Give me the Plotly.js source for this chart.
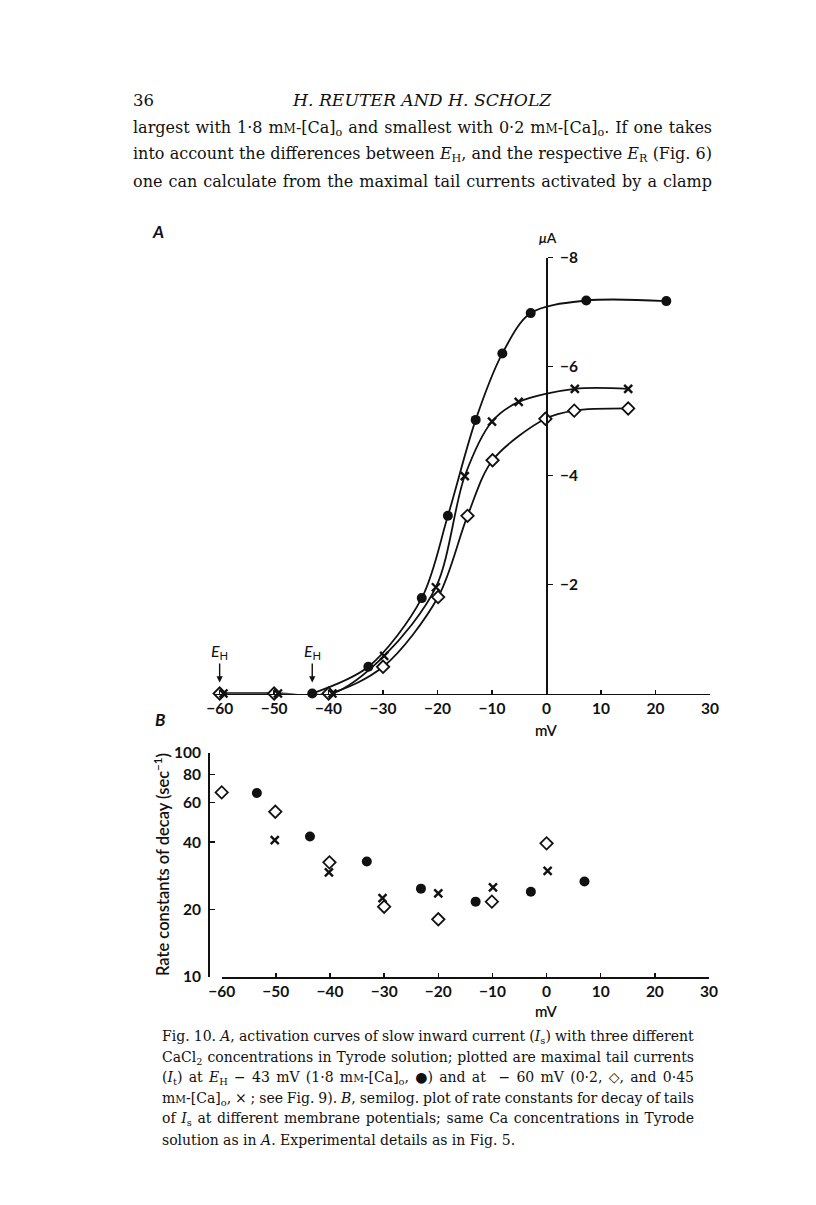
<!DOCTYPE html>
<html>
<head>
<meta charset="utf-8">
<script src="https://cdn.plot.ly/plotly-3.0.1.min.js"></script>
<style>html,body{margin:0;padding:0;background:#fff;}#chart{width:816px;height:1205px;}</style>
</head>
<body>
<div id="chart"></div>
<script>
// ---------- Panel A: maximal tail currents (µA) vs membrane potential (mV) ----------
const aFilledX  = [-43, -32.7, -22.9, -18.1, -13.0, -8.1, -2.9, 7.3, 22.0];
const aFilledY  = [0, -0.49, -1.75, -3.26, -5.02, -6.24, -6.98, -7.21, -7.20];
const aCrossX   = [-59.3, -49.3, -39.3, -29.8, -20.3, -15.0, -10.0, -5.1, 5.2, 15.0];
const aCrossY   = [0, 0, 0, -0.69, -1.95, -3.99, -4.99, -5.35, -5.59, -5.59];
const aDiamondX = [-60, -50, -40, -30.0, -19.9, -14.5, -9.9, -0.2, 5.1, 15.0];
const aDiamondY = [0, 0, 0, -0.49, -1.77, -3.26, -4.28, -5.04, -5.19, -5.23];

// ---------- Panel B: rate constants of decay (sec^-1), semilog ----------
const bFilledX  = [-53.5, -43.7, -33.2, -23.2, -13.1, -2.9, 7.0];
const bFilledY  = [66.3, 42.4, 32.8, 24.8, 21.7, 24.0, 26.7];
const bCrossX   = [-60.3, -50.2, -40.2, -30.3, -20.0, -9.9, 0.2];
const bCrossY   = [58.6, 40.8, 29.3, 22.5, 23.6, 25.1, 29.8];
const bDiamondX = [-60, -50.1, -40.1, -30.0, -20.0, -10.1, 0];
const bDiamondY = [66.7, 54.7, 32.5, 20.6, 18.1, 21.7, 39.5];

// ---------- Tick labels ----------
const mvTickVals = [-60, -50, -40, -30, -20, -10, 0, 10, 20, 30];
const mvTickText = ['−60', '−50', '−40', '−30', '−20', '−10', '0', '10', '20', '30'];
const uaTickVals = [-2, -4, -6, -8];
const uaTickText = ['−2', '−4', '−6', '−8'];
const rateTickVals = [10, 20, 40, 60, 80, 100];
const rateTickText = ['10', '20', '40', '60', '80', '100'];

// ---------- Page text ----------
const headerLines = [
  'largest with 1·8 m<span style="font-size:12px">M</span>-[Ca]<sub>o</sub> and smallest with 0·2 m<span style="font-size:12px">M</span>-[Ca]<sub>o</sub>. If one takes',
  'into account the differences between <i>E</i><sub>H</sub>, and the respective <i>E</i><sub>R</sub> (Fig. 6)',
  'one can calculate from the maximal tail currents activated by a clamp'
];
const captionLines = [
  'Fig. 10. <i>A</i>, activation curves of slow inward current (<i>I</i><sub>s</sub>) with three different',
  'CaCl<sub>2</sub> concentrations in Tyrode solution; plotted are maximal tail currents',
  '(<i>I</i><sub>t</sub>) at <i>E</i><sub>H</sub> − 43 mV (1·8 m<span style="font-size:10.5px">M</span>-[Ca]<sub>o</sub>, ●) and at  − 60 mV (0·2, ◇, and 0·45',
  'm<span style="font-size:10.5px">M</span>-[Ca]<sub>o</sub>, × ; see Fig. 9). <i>B</i>, semilog. plot of rate constants for decay of tails',
  'of <i>I</i><sub>s</sub> at different membrane potentials; same Ca concentrations in Tyrode',
  'solution as in <i>A</i>. Experimental details as in Fig. 5.'
];

// ---------- geometry helpers (page pixels -> paper fraction) ----------
const W = 816, H = 1205;
const px = x => x / W;
const py = y => 1 - y / H;

const INK = '#111';
const SANS = 'Lato, "Open Sans", sans-serif';
const SERIF = '"DejaVu Serif", "Liberation Serif", serif';

const xRangeA = [-61, 30];
const xDomA = [px(214.2), px(709.9)];
const yZeroPosA = xDomA[0] + (0 - xRangeA[0]) / (xRangeA[1] - xRangeA[0]) * (xDomA[1] - xDomA[0]);

const circleM = {symbol: 'circle', size: 10, color: INK};
const crossM = {symbol: 'x-thin-open', size: 8, color: INK, line: {width: 2.4, color: INK}};
const diamondM = {symbol: 'diamond', size: 9.5, color: '#fff', line: {width: 1.8, color: INK}};
const lineA = {color: INK, width: 1.8, shape: 'spline', smoothing: 0.9};

const traces = [
  // panel A curves
  {x: aDiamondX, y: aDiamondY, xaxis: 'x', yaxis: 'y', mode: 'lines', line: lineA, cliponaxis: false, hoverinfo: 'skip'},
  {x: aCrossX, y: aCrossY, xaxis: 'x', yaxis: 'y', mode: 'lines', line: lineA, cliponaxis: false, hoverinfo: 'skip'},
  {x: aFilledX, y: aFilledY, xaxis: 'x', yaxis: 'y', mode: 'lines', line: lineA, cliponaxis: false, hoverinfo: 'skip'},
  // panel A markers
  {x: aDiamondX, y: aDiamondY, xaxis: 'x', yaxis: 'y', mode: 'markers', marker: diamondM, cliponaxis: false},
  {x: aCrossX, y: aCrossY, xaxis: 'x', yaxis: 'y', mode: 'markers', marker: crossM, cliponaxis: false},
  {x: aFilledX, y: aFilledY, xaxis: 'x', yaxis: 'y', mode: 'markers', marker: circleM, cliponaxis: false},
  // panel B markers
  {x: bDiamondX, y: bDiamondY, xaxis: 'x2', yaxis: 'y2', mode: 'markers', marker: diamondM, cliponaxis: false},
  {x: bCrossX, y: bCrossY, xaxis: 'x2', yaxis: 'y2', mode: 'markers', marker: crossM, cliponaxis: false},
  {x: bFilledX, y: bFilledY, xaxis: 'x2', yaxis: 'y2', mode: 'markers', marker: circleM, cliponaxis: false}
];

const tickFont = {family: SANS, size: 15.5, color: INK, weight: 700};
const axCommon = {showgrid: false, zeroline: false, showline: true, linecolor: INK, linewidth: 1.5,
  tickcolor: INK, tickwidth: 1.5, tickfont: tickFont, fixedrange: true};

const annotations = [];
const justify = []; // [annotation index, target width in px]
function note(text, x, y, opts) {
  annotations.push(Object.assign({text: text, x: px(x), y: py(y), xref: 'paper', yref: 'paper',
    showarrow: false, xanchor: 'center', yanchor: 'middle',
    font: {family: SANS, size: 14, color: INK}}, opts || {}));
  return annotations.length - 1;
}

// page header
note('36', 131, 100, {xanchor: 'left', font: {family: SERIF, size: 16.5, color: INK}});
note('<i>H. REUTER AND H. SCHOLZ</i>', 422, 100, {font: {family: SERIF, size: 17.2, color: INK}});
const headerY = [129, 155, 181];
headerLines.forEach((t, i) => {
  const k = note(t, 131, headerY[i], {xanchor: 'left', align: 'left', font: {family: SERIF, size: 16, color: INK}});
  justify.push([k, 579]);
});

// caption
const capY = [1037, 1058, 1078, 1099, 1119, 1140];
captionLines.forEach((t, i) => {
  const k = note(t, 160, capY[i], {xanchor: 'left', align: 'left', font: {family: SERIF, size: 14, color: INK}});
  if (i < captionLines.length - 1) justify.push([k, 532]);
});

// panel labels and axis titles
note('<i><b>A</b></i>', 158, 232, {font: {family: SANS, size: 17, color: INK}});
note('<i><b>B</b></i>', 160, 719, {font: {family: SANS, size: 17, color: INK}});
note('<i>μ</i>A', 548, 238, {font: {family: SANS, size: 14, color: INK, weight: 600}});
note('mV', 546, 730, {font: {family: SANS, size: 15, color: INK, weight: 600}});
note('mV', 546, 1011, {font: {family: SANS, size: 15, color: INK, weight: 600}});
note('Rate constants of decay (sec<sup>−1</sup>)', 162, 865, {textangle: -90, font: {family: SANS, size: 16.5, color: INK, weight: 600}});

// E_H arrows
[-60, -43].forEach(v => annotations.push({
  text: '<i>E</i><sub>H</sub>', x: v, y: 0, xref: 'x', yref: 'y', showarrow: true,
  ax: 0, ay: -42, standoff: 11, arrowhead: 2, arrowsize: 0.9, arrowwidth: 1.4, arrowcolor: INK,
  font: {family: SANS, size: 16, color: INK}
}));

const layout = {
  width: W, height: H,
  margin: {l: 0, r: 0, t: 0, b: 0},
  paper_bgcolor: '#fff', plot_bgcolor: 'rgba(0,0,0,0)',
  showlegend: false,
  xaxis: Object.assign({}, axCommon, {domain: xDomA, range: xRangeA, anchor: 'y',
    ticks: 'inside', ticklen: 4, tickvals: mvTickVals, ticktext: mvTickText}),
  yaxis: Object.assign({}, axCommon, {domain: [py(693.5), py(257.5)], range: [0, -8],
    anchor: 'free', position: yZeroPosA, side: 'right', ticks: 'outside', ticklen: 5,
    tickvals: uaTickVals, ticktext: uaTickText, ticklabelstandoff: 4}),
  xaxis2: Object.assign({}, axCommon, {domain: [px(221.7), px(709)], range: [-60, 30], anchor: 'y2',
    ticks: 'inside', ticklen: 4, tickvals: mvTickVals, ticktext: mvTickText}),
  yaxis2: Object.assign({}, axCommon, {domain: [py(977), py(753)], type: 'log', range: [1, 2],
    anchor: 'free', position: px(208), ticks: 'inside', ticklen: 5,
    tickvals: rateTickVals, ticktext: rateTickText, ticklabelstandoff: 4}),
  annotations: annotations
};

Plotly.newPlot('chart', traces, layout, {staticPlot: true, displayModeBar: false}).then(gd => {
  // justify the printed text lines (like the typeset page) by widening word spacing
  justify.forEach(([idx, target]) => {
    const g = gd.querySelector('.annotation[data-index="' + idx + '"]');
    if (!g) return;
    const t = g.querySelector('text.annotation-text');
    if (!t) return;
    const w = t.getBBox().width;
    const spaces = (t.textContent.match(/ /g) || []).length;
    if (!spaces) return;
    const ws = (target - w) / spaces;
    t.style.wordSpacing = ws.toFixed(2) + 'px';
    const anchor = t.getAttribute('text-anchor');
    if (anchor === 'middle') {
      // keep left edge fixed when text is centred in its box
      const x0 = parseFloat(t.getAttribute('x') || 0);
      t.setAttribute('x', (x0 + (target - w) / 2).toFixed(2));
    }
  });
});
</script>
</body>
</html>
